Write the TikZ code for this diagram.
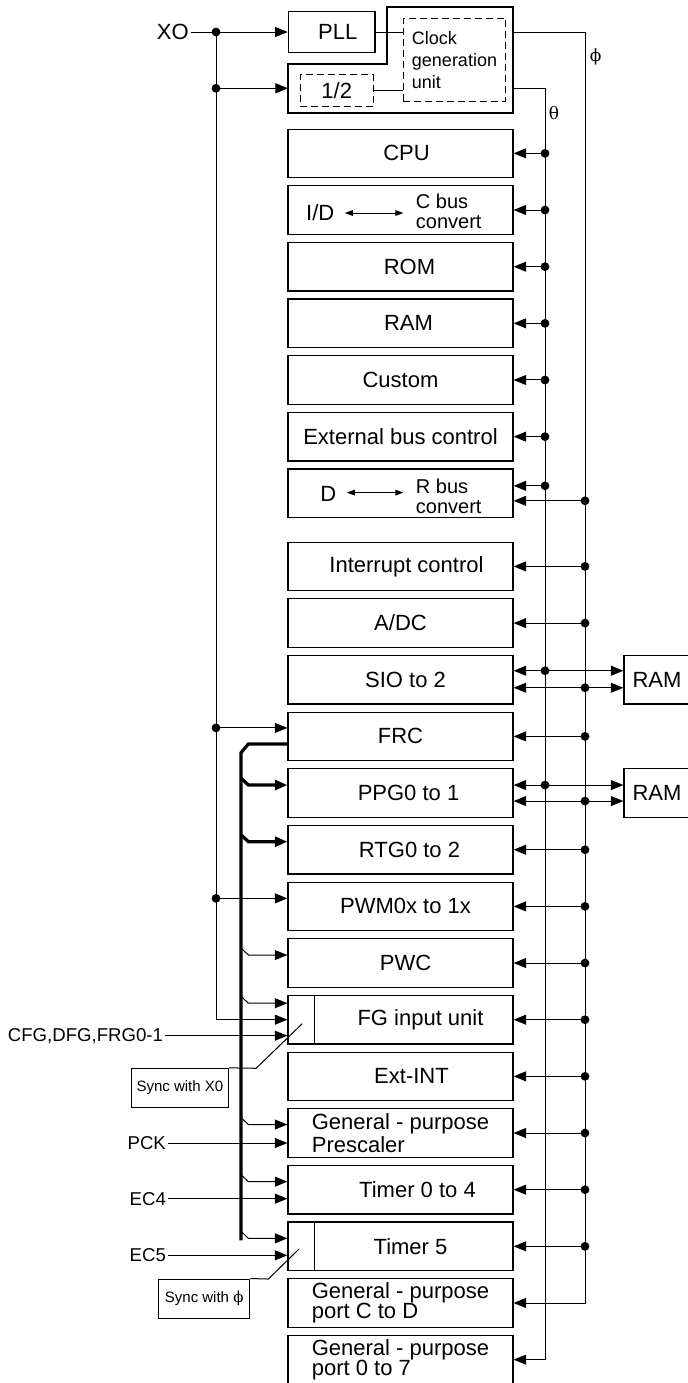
\documentclass[tikz,border=0pt]{standalone}
\usepackage{fontspec}
\setmainfont{Liberation Sans}
\newfontfamily\grkfont{DejaVu Serif}
\usetikzlibrary{arrows.meta,positioning,calc}
\tikzset{
  blk/.style={draw,line width=0.6pt,minimum width=112.5pt,minimum height=24.25pt,inner sep=1pt,font=\fontsize{11}{10.2}\selectfont},
  blkl/.style={blk,align=left},
  dbox/.style={draw,line width=0.5pt,dash pattern=on 3.5pt off 2pt,inner sep=1pt},
  arr/.style={-{Triangle[length=6.3pt,width=5pt]},line width=0.5pt},
  dbl/.style={{Triangle[length=6.3pt,width=5pt]}-{Triangle[length=6.3pt,width=5pt]},line width=0.5pt},
  sarr/.style={{Triangle[length=4pt,width=2.8pt]}-{Triangle[length=4pt,width=2.8pt]},line width=0.5pt},
  bus/.style={line width=1.6pt},
  lbl/.style={font=\fontsize{9.3}{11}\selectfont,inner sep=1pt,anchor=east},
  sync/.style={draw,line width=0.5pt,inner sep=1pt,font=\fontsize{7.5}{9}\selectfont},
  grk/.style={inner sep=1pt,font=\grkfont\fontsize{8.5}{10}\selectfont},
}

\begin{document}
\begin{tikzpicture}[x=0.5pt,y=-0.5pt,node distance=3.48pt,line width=0.5pt,font=\fontsize{11}{13}\selectfont]
  \useasboundingbox (0,0) rectangle (688,1383);
  % clock generation
  \node[blk,minimum width=43.35pt,minimum height=20.3pt] (pll) at (331.7,32) {\hspace*{6pt}PLL};
  \draw[line width=0.6pt] (387,7) -- (513,7) -- (513,113) -- (288,113) -- (288,64) -- (387,64) -- cycle;
  \node[dbox,minimum width=51.2pt,minimum height=41.35pt,align=left,font=\fontsize{9}{11}\selectfont] (cgu) at (454.5,59.7) {Clock\\generation\\unit};
  \node[dbox,minimum width=36.65pt,minimum height=15.85pt] (half) at (336.7,90.8) {1/2};
  \draw (pll.east) -- (pll.east -| cgu.west);
  \draw (half.east) -- (half.east -| cgu.west);

  % blocks
  \node[blk] (cpu) at (400.5,153.35) {\hspace*{6pt}CPU};
  \node[blk,below=of cpu] (cbus) {};
  \node[blk,below=of cbus] (rom) {\hspace*{9pt}ROM};
  \node[blk,below=of rom] (ram) {\hspace*{8pt}RAM};
  \node[blk,below=of ram] (cust) {Custom};
  \node[blk,below=of cust] (ebus) {External bus control};
  \node[blk,below=of ebus] (dr) {};
  \node[blk,below=11.7pt of dr] (ir) {\hspace*{6pt}Interrupt control};
  \node[blk,below=of ir] (adc) {A/DC};
  \node[blk,below=of adc] (sio) {\hspace*{5pt}SIO to 2};
  \node[blk,below=of sio] (frc) {FRC};
  \node[blk,below=of frc] (ppg) {\hspace*{8pt}PPG0 to 1};
  \node[blk,below=of ppg] (rtg) {\hspace*{9pt}RTG0 to 2};
  \node[blk,below=of rtg] (pwm) {\hspace*{5pt}PWM0x to 1x};
  \node[blk,below=of pwm] (pwc) {\hspace*{5pt}PWC};
  \node[blk,below=of pwc] (fg) {\hspace*{20pt}FG input unit};
  \node[blk,below=of fg] (eint) {\hspace*{11pt}Ext-INT};
  \node[blkl,below=of eint] (pres) {General - purpose\\Prescaler};
  \node[blk,below=of pres] (tm04) {\hspace*{17pt}Timer 0 to 4};
  \node[blk,below=of tm04] (tm5) {\hspace*{10pt}Timer 5};
  \node[blkl,below=of tm5] (pcd) {General - purpose\\port C to D};
  \node[blkl,below=of pcd] (p07) {General - purpose\\port 0 to 7};
  \node[blk,minimum width=33pt,right=54.9pt of sio] (ram1) {RAM};
  \node[blk,minimum width=33pt,right=54.9pt of ppg] (ram2) {RAM};
  \draw[line width=0.6pt] ($(fg.north west)+(27,0)$) -- ($(fg.south west)+(27,0)$);
  \draw[line width=0.6pt] ($(tm5.north west)+(27,0)$) -- ($(tm5.south west)+(27,0)$);

  % bus converters
  \node[inner sep=1pt] (id) at ($(cbus.west)+(32.8,3)$) {I/D};
  \node[inner sep=1pt,anchor=west,align=left,font=\fontsize{10}{10}\selectfont] (cbc) at ($(cbus.west)+(126,1.7)$) {C bus\\convert};
  \draw[sarr,shorten <=4pt,shorten >=5pt] (id.east) -- (id.east -| cbc.west);
  \node[inner sep=1pt] (dd) at ($(dr.west)+(41,0.6)$) {D};
  \node[inner sep=1pt,anchor=west,align=left,font=\fontsize{10}{10}\selectfont] (rbc) at ($(dr.west)+(126,2.9)$) {R bus\\convert};
  \draw[sarr,shorten <=4pt,shorten >=5pt] ($(dd.east)+(0,-1.3)$) -- ($(dd.east -| rbc.west)+(0,-1.3)$);

  % clock lines
  \coordinate (phout) at (513,32);
  \coordinate (thout) at (513,88.3);
  \coordinate (ph) at (585,32);
  \coordinate (th) at (545,88.3);
  \draw[arr] (phout) -- (ph) |- (pcd.east);
  \draw[arr] (thout) -- (th) |- (p07.east);
  \node[grk] (phl) at (595.7,57.3) {ϕ};
  \node[grk] (thl) at (554,113.3) {θ};

  \foreach \n in {cpu,cbus,rom,ram,cust,ebus}{
    \draw[arr] (th |- \n.east) -- (\n.east);
    \fill (th |- \n.east) circle (2.2pt);
  }
  \foreach \n in {ir,adc,frc,rtg,pwm,pwc,fg,eint,pres,tm04,tm5}{
    \draw[arr] (ph |- \n.east) -- (\n.east);
    \fill (ph |- \n.east) circle (2.2pt);
  }
  \coordinate (dra) at ($(dr.east)+(0,-7.5)$);
  \coordinate (drb) at ($(dr.east)+(0,7.5)$);
  \draw[arr] (th |- dra) -- (dra); \fill (th |- dra) circle (2.2pt);
  \draw[arr] (ph |- drb) -- (drb); \fill (ph |- drb) circle (2.2pt);
  \coordinate (sioa) at ($(sio.east)+(0,-9)$);
  \coordinate (siob) at ($(sio.east)+(0,8)$);
  \coordinate (ppga) at ($(ppg.east)+(0,-8)$);
  \coordinate (ppgb) at ($(ppg.east)+(0,8)$);
  \draw[dbl] (sioa) -- (sioa -| ram1.west); \fill (th |- sioa) circle (2.2pt);
  \draw[dbl] (siob) -- (siob -| ram1.west); \fill (ph |- siob) circle (2.2pt);
  \draw[dbl] (ppga) -- (ppga -| ram2.west); \fill (th |- ppga) circle (2.2pt);
  \draw[dbl] (ppgb) -- (ppgb -| ram2.west); \fill (ph |- ppgb) circle (2.2pt);

  % XO input
  \node[inner sep=1pt] (xo) at (172.8,32) {XO};
  \coordinate (xa) at (216,32);
  \coordinate (cgin) at (288,88.3);
  \coordinate (frca) at ($(frc.west)+(0,-8.5)$);
  \coordinate (pwma) at ($(pwm.west)+(0,-8)$);
  \draw[arr] (xo) -- (pll);
  \draw[arr] (xa) |- (fg.west);
  \foreach \c in {cgin,frca,pwma}
    \draw[arr] (xa |- \c) -- (\c);
  \foreach \c in {xa,cgin,frca,pwma}
    \fill (xa |- \c) circle (2.2pt);

  % FRC output bus
  \draw[bus] ($(frc.west)+(0,7.5)$) -- ++(-39,0) -- ++(-7.5,9) -- ($(tm5.west)+(-46.5,-6)$);
  \foreach \n in {ppg,rtg}
    \draw[arr,bus] ($(\n.west)+(-46.5,-15)$) -- ++(7.5,7) -- ($(\n.west)+(0,-8)$);
  \foreach \n/\o in {pwc/-8,fg/-16.5,pres/-8.5,tm04/-8,tm5/-8}
    \draw[arr] ($(\n.west)+(-46.5,\o-7)$) -- ++(7.5,7) -- ($(\n.west)+(0,\o)$);

  % external inputs
  \node[lbl] (cfg) at ($(fg.west)+(-122,16)$) {CFG,DFG,FRG0-1};
  \node[lbl] (pck) at ($(pres.west)+(-119,10)$) {PCK};
  \node[lbl] (ec4) at ($(tm04.west)+(-119,9)$) {EC4};
  \node[lbl] (ec5) at ($(tm5.west)+(-119,9)$) {EC5};
  \draw[arr] (cfg) -- (cfg -| fg.west);
  \draw[arr] (pck) -- (pck -| pres.west);
  \draw[arr] (ec4) -- (ec4 -| tm04.west);
  \draw[arr] (ec5) -- (ec5 -| tm5.west);

  % sync notes
  \node[sync,minimum width=48.8pt,minimum height=19.75pt] (sx0) at ($(fg.west)+(-107.5,68.4)$) {Sync with X0};
  \node[sync,minimum width=45.6pt,minimum height=19.5pt] (sph) at ($(tm5.west)+(-83.2,52.2)$) {Sync with {\grkfont ϕ}};
  \coordinate (sx0k) at ($(fg.west)+(-31.3,48.6)$);
  \coordinate (sx0e) at ($(fg.west)+(14.7,4.1)$);
  \coordinate (sphk) at ($(tm5.west)+(-19.1,32.7)$);
  \coordinate (sphe) at ($(tm5.west)+(11.6,2.7)$);
  \draw (sx0.north east) -- (sx0k) -- (sx0e);
  \draw (sph.north east) -- (sphk) -- (sphe);
\end{tikzpicture}
\end{document}
